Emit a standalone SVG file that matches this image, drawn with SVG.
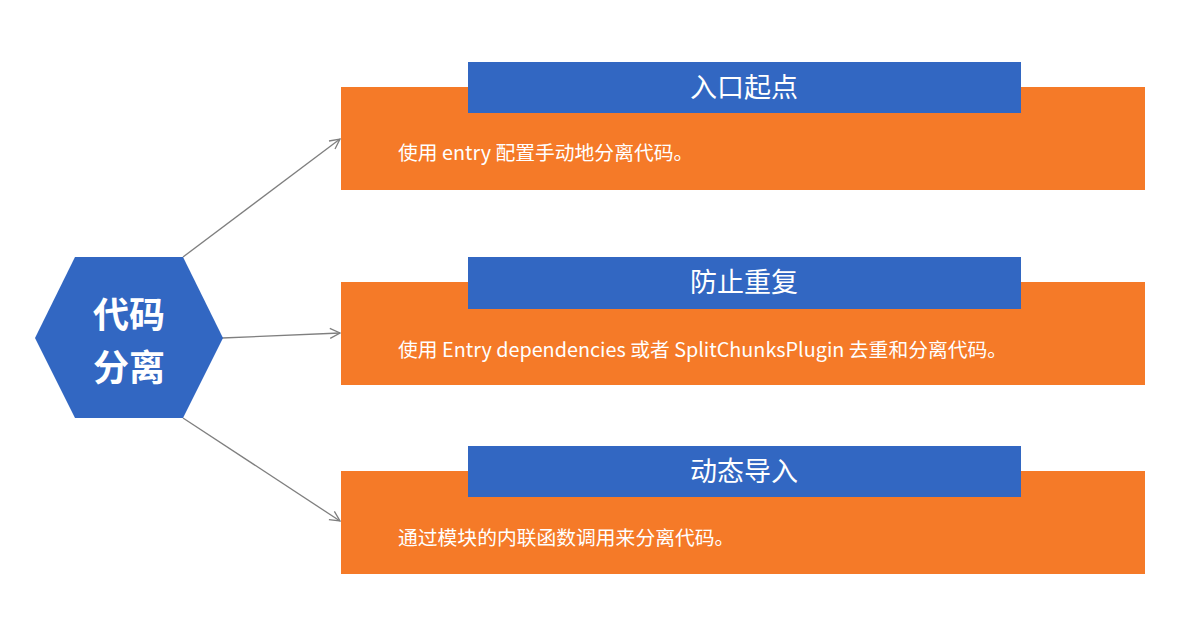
<svg xmlns="http://www.w3.org/2000/svg" width="1201" height="624" viewBox="0 0 1201 624">
  <defs>
    <style>
      .orange { fill: #F57A28; }
      .blue { fill: #3267C2; }
      .title { font-family: "Noto Sans CJK SC", "Noto Sans", sans-serif; font-size: 27px; fill: #ffffff; text-anchor: middle; }
      .desc { font-family: "Noto Sans CJK SC", "Noto Sans", sans-serif; font-size: 19.8px; fill: #ffffff; }
      .hex-text { font-family: "Noto Sans CJK SC", sans-serif; font-size: 36px; font-weight: bold; fill: #ffffff; text-anchor: middle; }
      .conn { stroke: #7f7f7f; stroke-width: 1.3; fill: none; marker-end: url(#arrow); }
    </style>
    <marker id="arrow" viewBox="0 0 12 12" refX="11" refY="6" markerWidth="12" markerHeight="12" markerUnits="userSpaceOnUse" orient="auto">
      <path d="M1,1 L11,6 L1,11" fill="none" stroke="#7f7f7f" stroke-width="1.3"/>
    </marker>
  </defs>
  <rect width="1201" height="624" fill="#ffffff"/>

  <g id="connectors">
    <line class="conn" x1="183" y1="257" x2="340" y2="139"/>
    <line class="conn" x1="222" y1="338" x2="340" y2="333"/>
    <line class="conn" x1="183" y1="418" x2="340" y2="521"/>
  </g>

  <g id="center">
    <polygon class="blue" points="35,338 75,257 183,257 223,338 183,418 75,418"/>
    <text class="hex-text" x="129" y="328">代码</text>
    <text class="hex-text" x="129" y="381">分离</text>
  </g>

  <g id="node-entry">
    <rect class="orange" x="341" y="87" width="804" height="103"/>
    <rect class="blue" x="468" y="62" width="553" height="51"/>
    <text class="title" x="744" y="97">入口起点</text>
    <text class="desc" x="398" y="160">使用 entry 配置手动地分离代码。</text>
  </g>

  <g id="node-dedupe">
    <rect class="orange" x="341" y="282" width="804" height="103"/>
    <rect class="blue" x="468" y="257" width="553" height="52"/>
    <text class="title" x="744" y="292">防止重复</text>
    <text class="desc" x="398" y="357">使用 Entry dependencies 或者 SplitChunksPlugin 去重和分离代码。</text>
  </g>

  <g id="node-dynamic">
    <rect class="orange" x="341" y="471" width="804" height="103"/>
    <rect class="blue" x="468" y="446" width="553" height="51"/>
    <text class="title" x="744" y="481">动态导入</text>
    <text class="desc" x="398" y="545">通过模块的内联函数调用来分离代码。</text>
  </g>
</svg>
